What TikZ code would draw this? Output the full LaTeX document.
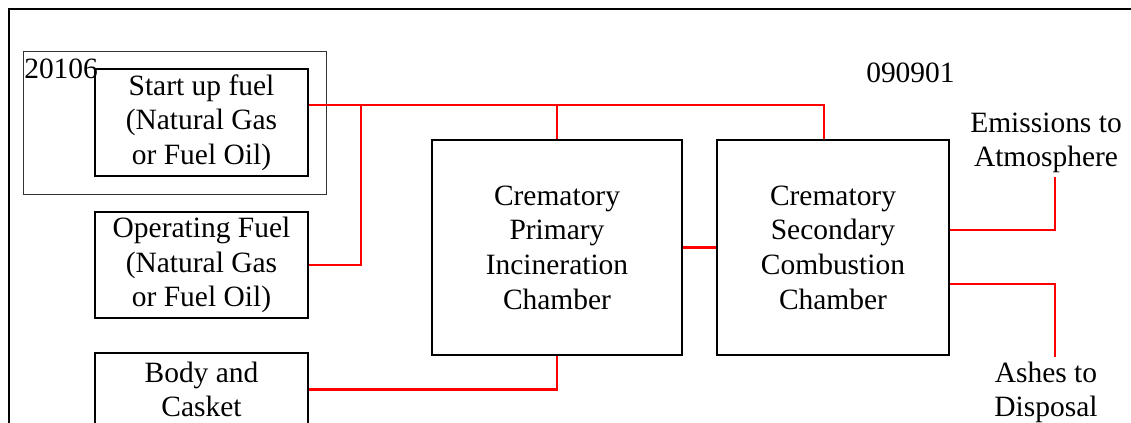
\documentclass[tikz,border=0pt]{standalone}
\usepackage{fontspec}
\setmainfont{Liberation Serif}
\begin{document}
\begin{tikzpicture}[x=0.75pt,y=-0.75pt,
  every node/.style={font=\fontsize{22.1}{26}\selectfont, inner sep=0pt},
  boxnode/.style={draw=black, line width=1.8pt, align=center},
  plain/.style={align=center},
  flow/.style={draw=red, line width=1.6pt},
  frame/.style={draw=black, line width=1.6pt},
  groupbox/.style={draw=black!80, line width=0.7pt}]
\useasboundingbox (0,0) rectangle (1131,423);
% outer frame
\coordinate (fa) at (9,423);
\coordinate (fb) at (9,9);
\coordinate (fc) at (1131,9);
\draw[frame] (fa) -- (fb) -- (fc);
% group box
\node[groupbox, minimum width=227.25pt, minimum height=107.25pt] (grp) at (174.5,122.5) {};
\node[anchor=base west] (lbla) at (24,79) {20106};
\node[anchor=base west] (lblb) at (866,83) {090901};
% boxes
\node[boxnode, minimum width=159.75pt, minimum height=80.25pt] (start) at (201.5,122.5) {Start up fuel\\(Natural Gas\\or Fuel Oil)};
\node[boxnode, minimum width=159.75pt, minimum height=79.5pt] (oper) at (201.5,265) {Operating Fuel\\(Natural Gas\\or Fuel Oil)};
\node[boxnode, minimum width=159.75pt, minimum height=54.75pt] (body) at (201.5,389.5) {Body and\\Casket};
\node[boxnode, minimum width=187.5pt, minimum height=161.25pt] (prim) at (557,247.5) {Crematory\\Primary\\Incineration\\Chamber};
\node[boxnode, minimum width=174pt, minimum height=161.25pt] (sec) at (833,247.5) {Crematory\\Secondary\\Combustion\\Chamber};
\node[plain] (emit) at (1046,143) {Emissions to\\Atmosphere};
\node[plain] (ash) at (1046,392.5) {Ashes to\\Disposal};
% connectors
\coordinate (j1) at (361,105);
\coordinate (j2) at (824,105);
\coordinate (ey) at (1055,230);
\coordinate (ea) at (1055,177);
\coordinate (ay) at (1055,284);
\coordinate (aa) at (1055,357);
\draw[flow] (start.east |- j1) -- (j2) -- (j2 |- sec.north);
\draw[flow] (j1) |- (oper.east);
\draw[flow] (prim.north |- j1) -- (prim.north);
\draw[flow] (body.east) -| (prim.south);
\draw[flow] (prim.east) -- (sec.west);
\draw[flow] (sec.east |- ey) -- (ey) -- (ea);
\draw[flow] (sec.east |- ay) -- (ay) -- (aa);
\end{tikzpicture}
\end{document}
